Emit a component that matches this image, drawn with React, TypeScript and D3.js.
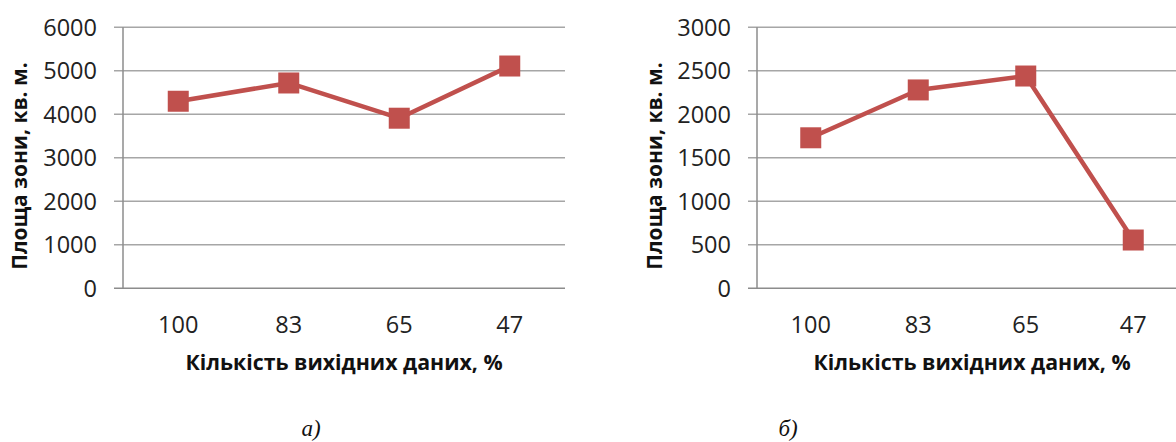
import React from "react";
import * as d3 from "d3";

// Category labels: share of source data used, %
const categories = ["100", "83", "65", "47"];

// Zone area, sq. m, for each share of source data
const areaA = [4300, 4720, 3910, 5110];
const areaB = [1730, 2280, 2440, 555];

const yTicksA = [0, 1000, 2000, 3000, 4000, 5000, 6000];
const yTicksB = [0, 500, 1000, 1500, 2000, 2500, 3000];

const xTitle = "Кількість вихідних даних, %";
const yTitle = "Площа зони, кв. м.";
const captions = ["а)", "б)"];

const W = 1176;
const H = 442;
const FONT = "'Open Sans', 'Noto Sans', sans-serif";
const RED = "#c0504d";
const GRID = "#a6a6a6";
const AXIS = "#8c8c8c";

type PanelProps = {
  values: number[];
  ticks: number[];
  left: number;
  right: number;
  top: number;
  bottom: number;
  titleX: number;
  caption: string;
  captionX: number;
};

function Panel({ values, ticks, left, right, top, bottom, titleX, caption, captionX }: PanelProps) {
  const x = d3.scaleBand<string>().domain(categories).range([left, right]);
  const y = d3
    .scaleLinear()
    .domain([0, d3.max(ticks) as number])
    .range([bottom, top]);

  const pts = categories.map((c, i) => [(x(c) as number) + x.bandwidth() / 2, y(values[i])] as [number, number]);
  const line = d3.line<[number, number]>()(pts) || "";
  const ms = 21;

  return (
    <g>
      {ticks.map((t) => (
        <g key={t}>
          <line x1={left - 9} x2={right} y1={y(t)} y2={y(t)} stroke={t === 0 ? AXIS : GRID} strokeWidth={1.5} />
          <text
            x={left - 26}
            y={y(t)}
            dy="0.36em"
            textAnchor="end"
            fontSize={23.5}
            fill="#222"
            fontFamily={FONT}
          >
            {t}
          </text>
        </g>
      ))}
      <line x1={left} x2={left} y1={top} y2={bottom} stroke={AXIS} strokeWidth={1.5} />
      {categories.map((c) => (
        <text
          key={c}
          x={(x(c) as number) + x.bandwidth() / 2}
          y={333}
          textAnchor="middle"
          fontSize={23.5}
          fill="#222"
          fontFamily={FONT}
        >
          {c}
        </text>
      ))}
      <path d={line} fill="none" stroke={RED} strokeWidth={4.5} strokeLinejoin="round" />
      {pts.map(([px, py], i) => (
        <rect key={i} x={px - ms / 2} y={py - ms / 2} width={ms} height={ms} fill={RED} />
      ))}
      <text
        x={(left + right) / 2}
        y={370}
        textAnchor="middle"
        fontSize={21.3}
        fontWeight="bold"
        fill="#111"
        fontFamily={FONT}
      >
        {xTitle}
      </text>
      <text
        transform={`translate(${titleX},166) rotate(-90)`}
        textAnchor="middle"
        fontSize={21}
        fontWeight="bold"
        fill="#111"
        fontFamily={FONT}
      >
        {yTitle}
      </text>
      <text
        x={captionX}
        y={436}
        textAnchor="middle"
        fontSize={23}
        fontStyle="italic"
        fill="#111"
        fontFamily="'Liberation Serif', 'DejaVu Serif', serif"
      >
        {caption}
      </text>
    </g>
  );
}

export default function App() {
  return (
    <svg
      width={W}
      height={H}
      viewBox={`0 0 ${W} ${H}`}
      style={{ position: "absolute", left: 0, top: 0, background: "#fff" }}
    >
      <rect width={W} height={H} fill="#fff" />
      <Panel
        values={areaA}
        ticks={yTicksA}
        left={123}
        right={565}
        top={27.3}
        bottom={288.3}
        titleX={27}
        caption={captions[0]}
        captionX={311}
      />
      <Panel
        values={areaB}
        ticks={yTicksB}
        left={757}
        right={1187}
        top={27.3}
        bottom={288.3}
        titleX={662}
        caption={captions[1]}
        captionX={788}
      />
    </svg>
  );
}
